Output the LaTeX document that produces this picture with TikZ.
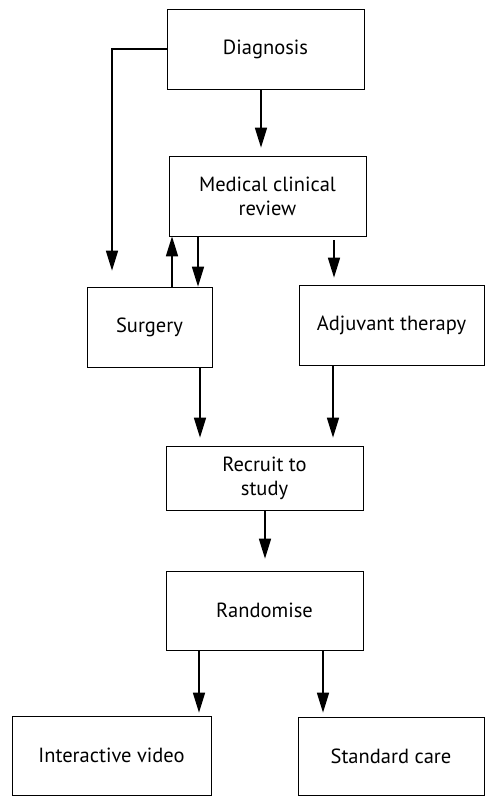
\documentclass[tikz,border=0pt]{standalone}
\usepackage{fontspec}
\setmainfont{PT Sans}
\usetikzlibrary{arrows.meta,positioning,calc}

\tikzset{
  box/.style={draw, line width=0.7pt, minimum height=80pt, align=center, font=\fontsize{20.5}{24}\selectfont, inner sep=2pt},
  arr/.style={line width=1.6pt, -{Triangle[length=20pt,width=12pt]}}
}

\begin{document}
\begin{tikzpicture}[x=1pt,y=-1pt]
\useasboundingbox (0,0) rectangle (485,796);
% boxes
\node[box, minimum width=197pt] (diag) at (265.5,49) {Diagnosis};
\node[box, minimum width=197pt] (med) at (267.5,196) {Medical clinical\\review};
\node[box, minimum width=125pt] (surg) at (149.5,327) {Surgery};
\node[box, minimum width=185pt] (adj) at (391.5,325) {Adjuvant therapy};
\node[box, minimum width=197pt, minimum height=64pt] (rec) at (264.5,478) {Recruit to\\study};
\node[box, minimum width=197pt, minimum height=79pt] (rand) at (264.5,610.5) {Randomise};
\node[box, minimum width=199pt, minimum height=79pt] (ivid) at (111.5,755.5) {Interactive video};
\node[box, minimum width=186pt, minimum height=78pt] (std) at (391,756) {Standard care};
% connectors
\draw[arr, shorten >=16pt] (diag.west) -| ([xshift=-37.5pt]surg.north);
\draw[arr, shorten >=8pt] ([xshift=-4.5pt]diag.south) -- ([xshift=-6.5pt]med.north);
\draw[arr] ([xshift=22.5pt]surg.north) -- ([xshift=-95.5pt]med.south);
\draw[arr] ([xshift=-69.5pt]med.south) -- ([xshift=48.5pt]surg.north);
\draw[arr, shorten <=4pt, shorten >=7pt] ([xshift=66.5pt]med.south) -- ([xshift=-57.5pt]adj.north);
\draw[arr, shorten >=8pt] ([xshift=50.5pt]surg.south) -- ([xshift=-64.5pt]rec.north);
\draw[arr, shorten >=8pt] ([xshift=-58.5pt]adj.south) -- ([xshift=68.5pt]rec.north);
\draw[arr, shorten >=12pt] ([xshift=0.5pt]rec.south) -- ([xshift=0.5pt]rand.north);
\draw[arr, shorten >=3pt] ([xshift=-65.5pt]rand.south) -- ([xshift=87.5pt]ivid.north);
\draw[arr, shorten >=4pt] ([xshift=58.5pt]rand.south) -- ([xshift=-68pt]std.north);
\end{tikzpicture}
\end{document}
